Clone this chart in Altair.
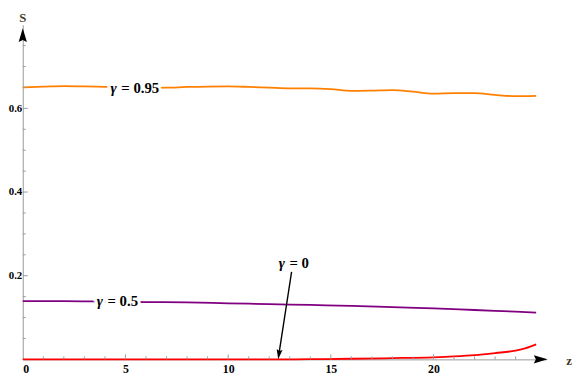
import altair as alt
import pandas as pd

# ---- data ----
z_095 = list(range(26))
s_095 = [0.6501, 0.6518, 0.6534, 0.6527, 0.6511, 0.6496, 0.6489, 0.6494, 0.6511,
         0.6522, 0.6525, 0.6513, 0.6496, 0.6480, 0.6478, 0.6459, 0.6419, 0.6426,
         0.6438, 0.6400, 0.6351, 0.6365, 0.6362, 0.6320, 0.6292, 0.6299]

z_05 = [0, 2, 4, 6, 8, 10, 12, 14, 16, 18, 20, 22, 24, 25]
s_05 = [0.139, 0.139, 0.138, 0.137, 0.136, 0.134, 0.132, 0.130, 0.128, 0.125,
        0.122, 0.118, 0.114, 0.112]

z_0 = [0, 2, 4, 6, 8, 10, 12, 14, 16, 18, 20, 21, 22, 23, 24, 24.5, 25]
s_0 = [0, 0, 0, 0, 0, 0, 0, 0.0005, 0.0015, 0.003, 0.005, 0.007, 0.010, 0.015,
       0.021, 0.027, 0.036]

x_major = [0, 5, 10, 15, 20]
x_minor = [v for v in range(1, 25) if v % 5 != 0]
y_major = [0.2, 0.4, 0.6]
y_minor = [round(0.05 * k, 2) for k in range(1, 16) if k % 4 != 0]

# curve labels: greek part + rest, anchored at label's left edge
labels_rest = ["= 0.95", "= 0.5", "= 0"]
labels_z = [4.27, 3.60, 12.46]
labels_s = [0.649, 0.139, 0.23]

# arrow from the "γ = 0" label to the red curve
arrow_z = [13.09, 12.46]
arrow_s = [0.209, 0.0]

X_MAX, Y_MAX = 25.5, 0.8
xs = alt.Scale(domain=[0, X_MAX], nice=False, zero=False)
ys = alt.Scale(domain=[0, Y_MAX], nice=False, zero=False)

GRAY = "#9a9a9a"
FONT = "Liberation Serif"
AXLAB = "#4a3a26"

xaxis = alt.Axis(values=x_major, format="d", ticks=False, grid=False, title=None,
                 domainColor=GRAY, domainWidth=1, labelFont=FONT, labelFontSize=12,
                 labelFontWeight="bold", labelColor="black", labelPadding=4)
yaxis = alt.Axis(values=y_major, format=".1f", ticks=False, grid=False, title=None,
                 domainColor=GRAY, domainWidth=1, labelFont=FONT, labelFontSize=11,
                 labelFontWeight="bold", labelColor="black", labelPadding=1)

def curve(z, s, color):
    df = pd.DataFrame({"z": z, "s": s})
    return alt.Chart(df).mark_line(color=color, strokeWidth=1.8, interpolate="monotone").encode(
        x=alt.X("z:Q", scale=xs, axis=xaxis),
        y=alt.Y("s:Q", scale=ys, axis=yaxis),
    )

c95 = curve(z_095, s_095, "#ff8000")
c05 = curve(z_05, s_05, "#800080")
c0 = curve(z_0, s_0, "#ff0000")

# inward ticks
xmin_df = pd.DataFrame({"t": x_minor})
xmaj_df = pd.DataFrame({"t": x_major[1:]})
ymin_df = pd.DataFrame({"t": y_minor})
ymaj_df = pd.DataFrame({"t": y_major})
H = 340
xt_min = alt.Chart(xmin_df).mark_rule(color=GRAY).encode(
    x=alt.X("t:Q", scale=xs), y=alt.value(H), y2=alt.value(H - 3))
xt_maj = alt.Chart(xmaj_df).mark_rule(color=GRAY).encode(
    x=alt.X("t:Q", scale=xs), y=alt.value(H), y2=alt.value(H - 5))
yt_min = alt.Chart(ymin_df).mark_rule(color=GRAY).encode(
    y=alt.Y("t:Q", scale=ys), x=alt.value(0), x2=alt.value(3))
yt_maj = alt.Chart(ymaj_df).mark_rule(color=GRAY).encode(
    y=alt.Y("t:Q", scale=ys), x=alt.value(0), x2=alt.value(5))

# axis arrowheads
HEAD = "M1,0 L-1,-0.6 L-0.7,0 L-1,0.6 Z"
xhead_df = pd.DataFrame({"z": [25.22], "s": [0.0]})
yhead_df = pd.DataFrame({"z": [0.0], "s": [0.775]})
xhead = alt.Chart(xhead_df).mark_point(shape=HEAD, filled=True, color="black", opacity=1,
                                       size=196, angle=0).encode(
    x=alt.X("z:Q", scale=xs), y=alt.Y("s:Q", scale=ys))
yhead = alt.Chart(yhead_df).mark_point(shape=HEAD, filled=True, color="black", opacity=1,
                                       size=196, angle=270).encode(
    x=alt.X("z:Q", scale=xs), y=alt.Y("s:Q", scale=ys))

# axis names
name_df = pd.DataFrame({"z": [26.6, 0.0], "s": [-0.004, 0.815], "t": ["z", "S"]})
names = alt.Chart(name_df).mark_text(font=FONT, fontSize=13, fontWeight="bold",
                                     color=AXLAB, align="center", baseline="middle").encode(
    x=alt.X("z:Q", scale=xs), y=alt.Y("s:Q", scale=ys), text="t:N")

# curve labels with white halo
lab_df = pd.DataFrame({"z": labels_z, "s": labels_s, "t": labels_rest, "g": ["γ"] * 3})
enc = dict(x=alt.X("z:Q", scale=xs), y=alt.Y("s:Q", scale=ys))
common = dict(font=FONT, fontSize=15, fontWeight="bold", align="left", baseline="middle")
halo_g = alt.Chart(lab_df).mark_text(color="white", stroke="white", strokeWidth=6,
                                     fontStyle="italic", **common).encode(text="g:N", **enc)
halo_r = alt.Chart(lab_df).mark_text(color="white", stroke="white", strokeWidth=6, dx=11,
                                     **common).encode(text="t:N", **enc)
lab_g = alt.Chart(lab_df).mark_text(color="black", fontStyle="italic",
                                    **common).encode(text="g:N", **enc)
lab_r = alt.Chart(lab_df).mark_text(color="black", dx=11, **common).encode(text="t:N", **enc)

# pointer arrow
arr_df = pd.DataFrame({"z": [arrow_z[0]], "s": [arrow_s[0]], "z2": [arrow_z[1] + 0.03],
                       "s2": [arrow_s[1] + 0.018]})
arr = alt.Chart(arr_df).mark_rule(color="black", strokeWidth=1.4).encode(
    x=alt.X("z:Q", scale=xs), y=alt.Y("s:Q", scale=ys), x2="z2:Q", y2="s2:Q")
ahead_df = pd.DataFrame({"z": [arrow_z[1] + 0.012], "s": [arrow_s[1] + 0.012]})
ahead = alt.Chart(ahead_df).mark_point(shape=HEAD, filled=True, color="black", opacity=1,
                                       size=100, angle=98.3).encode(
    x=alt.X("z:Q", scale=xs), y=alt.Y("s:Q", scale=ys))

chart = alt.layer(
    c0, c05, c95, xt_min, xt_maj, yt_min, yt_maj, xhead, yhead,
    arr, ahead, halo_g, halo_r, lab_g, lab_r, names
).properties(
    width=532, height=H,
    autosize=alt.AutoSizeParams(type="none"),
    padding={"left": 15, "top": 14, "right": 28, "bottom": 18},
).configure_view(stroke=None)

chart.save("out.html", embed_options={"renderer": "svg", "actions": False})
